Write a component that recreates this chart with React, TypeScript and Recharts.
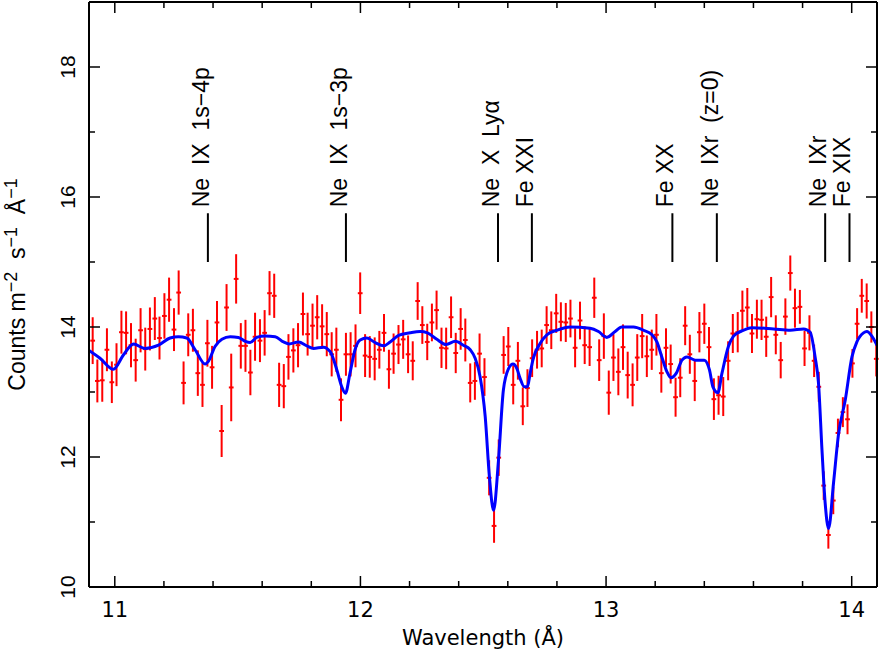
import { ComposedChart, XAxis, YAxis, Scatter, ErrorBar, Line, ReferenceLine } from "recharts";

// binned spectrum (Å)
const WAVELENGTH = [
  10.910, 10.929, 10.949, 10.968, 10.988, 11.007, 11.027, 11.046, 11.066, 11.085,
  11.105, 11.124, 11.143, 11.163, 11.182, 11.202, 11.221, 11.241, 11.260, 11.280,
  11.299, 11.318, 11.338, 11.357, 11.377, 11.396, 11.416, 11.435, 11.455, 11.474,
  11.494, 11.513, 11.532, 11.552, 11.571, 11.591, 11.610, 11.630, 11.649, 11.669,
  11.688, 11.707, 11.727, 11.746, 11.766, 11.785, 11.805, 11.824, 11.844, 11.863,
  11.883, 11.902, 11.921, 11.941, 11.960, 11.980, 11.999, 12.019, 12.038, 12.058,
  12.077, 12.096, 12.116, 12.135, 12.155, 12.174, 12.194, 12.213, 12.233, 12.252,
  12.272, 12.291, 12.310, 12.330, 12.349, 12.369, 12.388, 12.408, 12.427, 12.447,
  12.466, 12.485, 12.505, 12.524, 12.544, 12.563, 12.583, 12.602, 12.622, 12.641,
  12.661, 12.680, 12.699, 12.719, 12.738, 12.758, 12.777, 12.797, 12.816, 12.836,
  12.855, 12.874, 12.894, 12.913, 12.933, 12.952, 12.972, 12.991, 13.011, 13.030,
  13.050, 13.069, 13.088, 13.108, 13.127, 13.147, 13.166, 13.186, 13.205, 13.225,
  13.244, 13.263, 13.283, 13.302, 13.322, 13.341, 13.361, 13.380, 13.400, 13.419,
  13.439, 13.458, 13.477, 13.497, 13.516, 13.536, 13.555, 13.575, 13.594, 13.614,
  13.633, 13.652, 13.672, 13.691, 13.711, 13.730, 13.750, 13.769, 13.789, 13.808,
  13.828, 13.847, 13.866, 13.886, 13.905, 13.925, 13.944, 13.964, 13.983, 14.003,
  14.022, 14.041, 14.061, 14.080, 14.100,
];

const COUNTS = [
  13.79, 13.17, 13.18, 13.65, 13.15, 13.42, 13.92, 13.91, 13.72, 13.49,
  13.95, 13.66, 13.97, 14.13, 13.83, 14.17, 14.42, 13.96, 14.53, 13.14,
  13.88, 13.95, 13.29, 13.11, 13.75, 13.38, 14.07, 12.40, 14.30, 13.07,
  14.74, 13.71, 13.71, 13.30, 13.85, 13.79, 13.91, 14.52, 14.48, 13.11,
  13.09, 13.54, 13.64, 13.72, 14.20, 13.89, 14.02, 14.15, 14.01, 13.89,
  13.58, 13.65, 12.88, 13.58, 13.58, 13.71, 14.52, 13.56, 13.54, 13.51,
  13.65, 13.91, 13.35, 13.59, 13.73, 13.81, 13.58, 13.48, 14.40, 14.03,
  13.77, 14.07, 14.26, 13.68, 13.67, 14.15, 13.60, 13.97, 13.80, 13.14,
  13.17, 13.59, 13.23, 11.68, 10.94, 11.99, 13.57, 13.70, 13.11, 13.48,
  12.78, 13.06, 13.52, 13.65, 13.67, 14.03, 13.95, 14.21, 14.08, 14.07,
  14.13, 13.68, 14.10, 13.72, 13.69, 14.45, 13.49, 13.86, 12.99, 13.53,
  13.31, 13.69, 13.26, 13.11, 13.53, 13.86, 13.55, 13.65, 13.88, 13.29,
  13.68, 13.43, 12.92, 13.22, 14.02, 13.58, 13.17, 13.92, 14.05, 13.69,
  12.89, 12.95, 12.93, 13.48, 13.90, 13.92, 14.25, 14.30, 13.90, 14.12,
  14.11, 13.85, 14.46, 13.88, 13.49, 14.16, 14.83, 14.29, 14.31, 13.67,
  13.91, 13.48, 13.08, 11.56, 10.80, 11.33, 12.37, 12.69, 12.58, 13.44,
  14.05, 14.48, 14.40, 14.00, 13.51,
];

const COUNTS_ERR = [
  0.36, 0.33, 0.33, 0.33, 0.32, 0.33, 0.33, 0.33, 0.34, 0.33,
  0.34, 0.33, 0.33, 0.33, 0.33, 0.35, 0.34, 0.33, 0.34, 0.33,
  0.33, 0.33, 0.35, 0.34, 0.36, 0.33, 0.33, 0.40, 0.36, 0.52,
  0.38, 0.35, 0.40, 0.35, 0.37, 0.33, 0.35, 0.34, 0.34, 0.34,
  0.34, 0.35, 0.34, 0.34, 0.33, 0.33, 0.34, 0.34, 0.34, 0.34,
  0.34, 0.34, 0.33, 0.33, 0.34, 0.33, 0.32, 0.33, 0.32, 0.33,
  0.29, 0.29, 0.30, 0.31, 0.30, 0.30, 0.29, 0.30, 0.29, 0.29,
  0.28, 0.29, 0.30, 0.31, 0.32, 0.32, 0.31, 0.32, 0.33, 0.30,
  0.29, 0.31, 0.29, 0.27, 0.26, 0.28, 0.29, 0.30, 0.30, 0.29,
  0.29, 0.29, 0.29, 0.29, 0.29, 0.29, 0.29, 0.30, 0.30, 0.30,
  0.29, 0.30, 0.29, 0.29, 0.29, 0.31, 0.32, 0.35, 0.34, 0.36,
  0.36, 0.35, 0.36, 0.33, 0.36, 0.34, 0.32, 0.31, 0.32, 0.30,
  0.30, 0.30, 0.30, 0.30, 0.30, 0.30, 0.31, 0.31, 0.31, 0.31,
  0.32, 0.30, 0.30, 0.30, 0.30, 0.31, 0.31, 0.30, 0.30, 0.30,
  0.31, 0.31, 0.31, 0.30, 0.28, 0.28, 0.27, 0.30, 0.26, 0.27,
  0.27, 0.25, 0.23, 0.22, 0.21, 0.21, 0.22, 0.23, 0.23, 0.22,
  0.24, 0.26, 0.27, 0.24, 0.27,
];

const BIN_HALF_WIDTH = 0.0097;

// fitted model curve
const MODEL_WAVELENGTH = [
  10.895, 10.940, 10.994, 11.035, 11.076, 11.123, 11.178, 11.225, 11.259, 11.293,
  11.327, 11.368, 11.381, 11.408, 11.436, 11.470, 11.503, 11.531, 11.551, 11.578,
  11.612, 11.653, 11.687, 11.710, 11.748, 11.782, 11.809, 11.849, 11.877, 11.904,
  11.924, 11.939, 11.958, 11.978, 11.999, 12.026, 12.060, 12.094, 12.121, 12.155,
  12.202, 12.243, 12.273, 12.311, 12.349, 12.386, 12.419, 12.447, 12.467, 12.487,
  12.508, 12.525, 12.542, 12.562, 12.582, 12.603, 12.621, 12.637, 12.650, 12.667,
  12.680, 12.691, 12.704, 12.732, 12.759, 12.800, 12.854, 12.935, 12.969, 13.003,
  13.037, 13.064, 13.112, 13.152, 13.187, 13.207, 13.227, 13.248, 13.264, 13.286,
  13.309, 13.329, 13.363, 13.400, 13.421, 13.435, 13.455, 13.472, 13.498, 13.519,
  13.553, 13.594, 13.682, 13.750, 13.804, 13.831, 13.851, 13.865, 13.879, 13.892,
  13.906, 13.926, 13.946, 13.974, 14.001, 14.021, 14.048, 14.062, 14.082, 14.103,
];

const MODEL_COUNTS = [
  13.64, 13.52, 13.35, 13.57, 13.74, 13.67, 13.72, 13.83, 13.85, 13.83,
  13.65, 13.43, 13.47, 13.70, 13.81, 13.85, 13.84, 13.78, 13.76, 13.84,
  13.86, 13.85, 13.77, 13.74, 13.77, 13.71, 13.67, 13.69, 13.62, 13.34,
  13.08, 12.98, 13.30, 13.65, 13.80, 13.83, 13.76, 13.71, 13.77, 13.87,
  13.91, 13.93, 13.91, 13.81, 13.73, 13.78, 13.72, 13.65, 13.52, 13.24,
  12.62, 11.70, 11.18, 11.95, 13.03, 13.36, 13.43, 13.36, 13.21, 13.08,
  13.08, 13.29, 13.52, 13.75, 13.88, 13.95, 14.00, 13.98, 13.93, 13.84,
  13.93, 14.00, 14.00, 13.95, 13.88, 13.77, 13.54, 13.31, 13.22, 13.29,
  13.49, 13.54, 13.49, 13.49, 13.34, 13.08, 12.99, 13.29, 13.70, 13.86,
  13.94, 13.99, 13.97, 13.95, 13.97, 13.92, 13.54, 13.13, 12.11, 11.29,
  10.90, 11.60, 12.34, 12.88, 13.54, 13.77, 13.91, 13.93, 13.86, 13.72,
];

// line identifications
const LINE_NAMES = [
  "Ne  IX  1s\u22124p",
  "Ne  IX  1s\u22123p",
  "Ne  X  Ly\u03b1",
  "Fe XXI",
  "Fe XX",
  "Ne  IXr  (z=0)",
  "Ne  IXr",
  "Fe XIX",
];
const LINE_WAVELENGTH = [11.379, 11.941, 12.560, 12.698, 13.270, 13.451, 13.892, 13.991];
const MARKER_BOTTOM = 15.0;
const MARKER_TOP = 15.75;

const X_TICKS = [11, 11.2, 11.4, 11.6, 11.8, 12, 12.2, 12.4, 12.6, 12.8, 13, 13.2, 13.4, 13.6, 13.8, 14];
const Y_TICKS = [10, 11, 12, 13, 14, 15, 16, 17, 18, 19];
const X_DOMAIN: [number, number] = [10.895, 14.103];
const Y_DOMAIN: [number, number] = [10, 19];

const SANS = '"Liberation Sans", Arial, sans-serif';
const WIDE = '"DejaVu Sans", sans-serif';
const MAJOR = 11;
const MINOR = 6;

const isMajorX = (v: number) => Math.abs(v - Math.round(v)) < 1e-6;
const isMajorY = (v: number) => Math.round(v) % 2 === 0;

function BottomTick(props: any) {
  const { x, y, payload } = props;
  const major = isMajorX(payload.value);
  return (
    <g>
      <line x1={x} x2={x} y1={y} y2={y - (major ? MAJOR : MINOR)} stroke="#000" strokeWidth={1.5} />
      {major && (
        <text x={x} y={y + 30} textAnchor="middle" fontFamily={WIDE} fontSize={21} fill="#000">
          {Math.round(payload.value)}
        </text>
      )}
    </g>
  );
}

function TopTick(props: any) {
  const { x, y, payload } = props;
  const major = isMajorX(payload.value);
  return <line x1={x} x2={x} y1={y} y2={y + (major ? MAJOR : MINOR)} stroke="#000" strokeWidth={1.5} />;
}

function LeftTick(props: any) {
  const { x, y, payload } = props;
  const major = isMajorY(payload.value);
  const bx = x - 14;
  return (
    <g>
      <line x1={x} x2={x + (major ? MAJOR : MINOR)} y1={y} y2={y} stroke="#000" strokeWidth={1.5} />
      {major && payload.value < 19 && (
        <text
          x={bx}
          y={y}
          transform={`rotate(-90 ${bx} ${y})`}
          textAnchor="middle"
          fontFamily={SANS}
          fontSize={21}
          fill="#000"
        >
          {payload.value}
        </text>
      )}
    </g>
  );
}

function RightTick(props: any) {
  const { x, y, payload } = props;
  const major = isMajorY(payload.value);
  return <line x1={x} x2={x - (major ? MAJOR : MINOR)} y1={y} y2={y} stroke="#000" strokeWidth={1.5} />;
}

function XTitle(props: any) {
  const vb = props.viewBox;
  return (
    <text x={vb.x + vb.width / 2} y={vb.y + 58} textAnchor="middle" fontFamily={WIDE} fontSize={21} fill="#000">
      Wavelength (Å)
    </text>
  );
}

function YTitle(props: any) {
  const vb = props.viewBox;
  const cx = vb.x + 25;
  const cy = vb.y + vb.height / 2 - 10;
  return (
    <text
      x={cx}
      y={cy}
      transform={`rotate(-90 ${cx} ${cy})`}
      textAnchor="middle"
      fontFamily={SANS}
      fontSize={23}
      fill="#000"
      style={{ whiteSpace: "pre" }}
    >
      Counts m
      <tspan dy={-8} fontSize={18}>{"\u22122"}</tspan>
      <tspan dy={8}>{"  s"}</tspan>
      <tspan dy={-8} fontSize={18}>{"\u22121"}</tspan>
      <tspan dy={8}>{"  Å"}</tspan>
      <tspan dy={-8} fontSize={18}>{"\u22121"}</tspan>
    </text>
  );
}

function MarkerLabel({ viewBox, text }: any) {
  const tx = viewBox.x + 1;
  const ty = viewBox.y - 6;
  return (
    <text
      x={tx}
      y={ty}
      transform={`rotate(-90 ${tx} ${ty})`}
      textAnchor="start"
      fontFamily={SANS}
      fontSize={23}
      fill="#000"
      style={{ whiteSpace: "pre" }}
    >
      {text}
    </text>
  );
}

const NoPoint = () => <g />;

export default function App() {
  const points = WAVELENGTH.map((x, i) => ({ x, y: COUNTS[i], err: COUNTS_ERR[i], xerr: BIN_HALF_WIDTH }));
  const model = MODEL_WAVELENGTH.map((x, i) => ({ x, m: MODEL_COUNTS[i] }));

  return (
    <div style={{ position: "absolute", left: 0, top: 0, background: "#fff" }}>
      <ComposedChart width={879} height={654} margin={{ top: 1, right: 1, bottom: 0, left: 0 }}>
        <XAxis
          xAxisId="b"
          dataKey="x"
          type="number"
          domain={X_DOMAIN}
          allowDataOverflow
          ticks={X_TICKS}
          interval={0}
          height={67}
          tickSize={0}
          tickMargin={0}
          tickLine={false}
          tick={BottomTick}
          axisLine={{ stroke: "#000", strokeWidth: 2 }}
          label={(p: any) => <XTitle {...p} />}
        />
        <XAxis
          xAxisId="t"
          orientation="top"
          dataKey="x"
          type="number"
          domain={X_DOMAIN}
          allowDataOverflow
          ticks={X_TICKS}
          interval={0}
          height={1}
          tickSize={0}
          tickMargin={0}
          tickLine={false}
          tick={TopTick}
          axisLine={{ stroke: "#000", strokeWidth: 2 }}
        />
        <YAxis
          yAxisId="l"
          type="number"
          domain={Y_DOMAIN}
          allowDataOverflow
          ticks={Y_TICKS}
          interval={0}
          width={89}
          tickSize={0}
          tickMargin={0}
          tickLine={false}
          tick={LeftTick}
          axisLine={{ stroke: "#000", strokeWidth: 2 }}
          label={(p: any) => <YTitle {...p} />}
        />
        <YAxis
          yAxisId="r"
          orientation="right"
          type="number"
          domain={Y_DOMAIN}
          allowDataOverflow
          ticks={Y_TICKS}
          interval={0}
          width={1}
          tickSize={0}
          tickMargin={0}
          tickLine={false}
          tick={RightTick}
          axisLine={{ stroke: "#000", strokeWidth: 2 }}
        />
        <Scatter
          xAxisId="b"
          yAxisId="l"
          data={points}
          dataKey="y"
          shape={NoPoint}
          isAnimationActive={false}
        >
          <ErrorBar dataKey="err" direction="y" width={0} stroke="#ff0000" strokeWidth={2} isAnimationActive={false} />
          <ErrorBar dataKey="xerr" direction="x" width={0} stroke="#ff0000" strokeWidth={2} isAnimationActive={false} />
        </Scatter>
        <Line
          xAxisId="b"
          yAxisId="l"
          data={model}
          dataKey="m"
          type="monotone"
          stroke="#0000ff"
          strokeWidth={3}
          dot={false}
          activeDot={false}
          isAnimationActive={false}
        />
        {/* invisible twin so the top and right frame axes get a domain */}
        <Line
          xAxisId="t"
          yAxisId="r"
          data={model}
          dataKey="m"
          stroke="none"
          strokeWidth={0}
          dot={false}
          activeDot={false}
          legendType="none"
          isAnimationActive={false}
        />
        {LINE_WAVELENGTH.map((w, i) => (
          <ReferenceLine
            key={LINE_NAMES[i]}
            xAxisId="b"
            yAxisId="l"
            segment={[{ x: w, y: MARKER_BOTTOM }, { x: w, y: MARKER_TOP }]}
            stroke="#000"
            strokeWidth={2}
            label={(p: any) => <MarkerLabel {...p} text={LINE_NAMES[i]} />}
          />
        ))}
      </ComposedChart>
    </div>
  );
}
